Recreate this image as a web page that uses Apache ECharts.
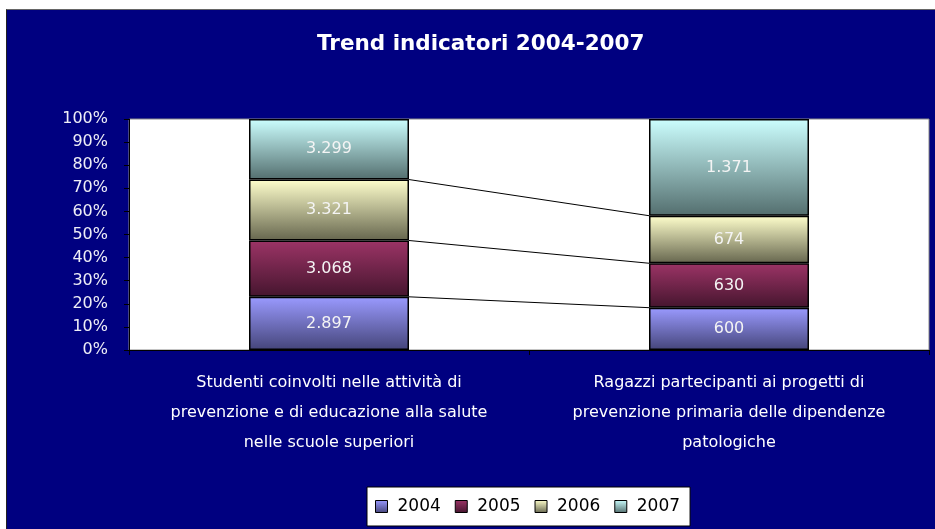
<!DOCTYPE html>
<html>
<head>
<meta charset="utf-8">
<script src="https://cdn.jsdelivr.net/npm/echarts@6/dist/echarts.min.js"></script>
<style>
  html, body { margin: 0; padding: 0; background: #fff; }
  #chart {
    position: absolute; left: 6px; top: 9px;
    width: 929px; height: 520px;
    border-top: 1px solid #666; border-left: 1px solid #222;
    box-sizing: border-box;
  }
</style>
</head>
<body>
<div id="chart"></div>
<script>
// categories and raw values per year
const categories = [
  'Studenti coinvolti nelle attività di\nprevenzione e di educazione alla salute\nnelle scuole superiori',
  'Ragazzi partecipanti ai progetti di\nprevenzione primaria delle dipendenze\npatologiche'
];
const years = ['2004', '2005', '2006', '2007'];
const v2004 = [2897, 600];
const v2005 = [3068, 630];
const v2006 = [3321, 674];
const v2007 = [3299, 1371];
const yTicks = [0, 10, 20, 30, 40, 50, 60, 70, 80, 90, 100];

const raw = [v2004, v2005, v2006, v2007];
const totals = categories.map((_, i) => raw.reduce((s, arr) => s + arr[i], 0));
const pct = raw.map(arr => arr.map((v, i) => v / totals[i] * 100));

// gradient colours (top, bottom)
const grads = [
  ['#9a9aff', '#45457a'],
  ['#9c3466', '#45152e'],
  ['#ffffcc', '#66664e'],
  ['#ccffff', '#536e6e']
];
function grad(c) {
  return new echarts.graphic.LinearGradient(0, 0, 0, 1, [
    { offset: 0, color: c[0] }, { offset: 1, color: c[1] }
  ]);
}

function fmt(n) {
  return String(n).replace(/\B(?=(\d{3})+(?!\d))/g, '.');
}

// cumulative tops for the series lines (first three series)
const lineData = [];
let cum = [0, 0];
for (let s = 0; s < 3; s++) {
  cum = cum.map((c, i) => c + pct[s][i]);
  lineData.push([0, cum[0], 1, cum[1]]);
}

const chart = echarts.init(document.getElementById('chart'));

const series = raw.map((arr, s) => ({
  name: years[s],
  type: 'bar',
  stack: 'total',
  barWidth: '40%',
  data: pct[s].map((p, i) => ({ value: p, raw: arr[i] })),
  itemStyle: { color: grad(grads[s]), borderColor: '#000', borderWidth: 1.5 },
  label: {
    show: true,
    position: 'inside',
    color: '#f4f4f4',
    fontFamily: 'DejaVu Sans',
    fontSize: 16,
    formatter: p => fmt(p.data.raw)
  },
  emphasis: { disabled: true }
}));

// thin lines joining the stack tops between the two bars
series.push({
  type: 'custom',
  silent: true,
  data: lineData,
  encode: { x: 0, y: 1 },
  z: 1,
  renderItem: (params, api) => {
    const p0 = api.coord([0, api.value(1)]);
    const p1 = api.coord([1, api.value(3)]);
    const half = api.size([1, 0])[0] * 0.2;
    return {
      type: 'line',
      shape: { x1: p0[0] + half, y1: p0[1], x2: p1[0] - half, y2: p1[1] },
      style: { stroke: '#000', lineWidth: 1 }
    };
  }
});

chart.setOption({
  backgroundColor: '#000080',
  animation: false,
  title: {
    text: 'Trend indicatori 2004-2007',
    left: 305,
    top: 18,
    textStyle: { color: '#fff', fontFamily: 'DejaVu Sans', fontWeight: 'bold', fontSize: 21.5 }
  },
  grid: {
    left: 122, right: 6, top: 109, bottom: 179,
    show: true, backgroundColor: '#fff', borderColor: '#888', borderWidth: 1
  },
  legend: {
    data: years,
    left: 360,
    top: 477,
    backgroundColor: '#fff',
    borderColor: '#000',
    borderWidth: 1,
    borderRadius: 0,
    padding: [11, 10, 11, 8],
    itemGap: 14,
    itemWidth: 12,
    itemHeight: 12,
    icon: 'rect',
    itemStyle: { borderColor: '#000', borderWidth: 1 },
    textStyle: { color: '#000', fontFamily: 'DejaVu Sans', fontSize: 17, padding: [0, 0, 0, 5] }
  },
  xAxis: {
    type: 'category',
    data: categories,
    axisLine: { lineStyle: { color: '#000' } },
    axisTick: { show: true, length: 5, lineStyle: { color: '#000' } },
    axisLabel: {
      color: '#fff', fontFamily: 'DejaVu Sans', fontSize: 16,
      lineHeight: 30, margin: 18, interval: 0
    }
  },
  yAxis: {
    type: 'value',
    min: yTicks[0],
    max: yTicks[yTicks.length - 1],
    interval: 10,
    axisLine: { show: true, lineStyle: { color: '#000' } },
    axisTick: { show: true, length: 5, lineStyle: { color: '#000' } },
    splitLine: { show: false },
    axisLabel: {
      color: '#eeeef6', fontFamily: 'DejaVu Sans', fontSize: 16, margin: 21,
      formatter: '{value}%'
    }
  },
  series: series
});
</script>
</body>
</html>
